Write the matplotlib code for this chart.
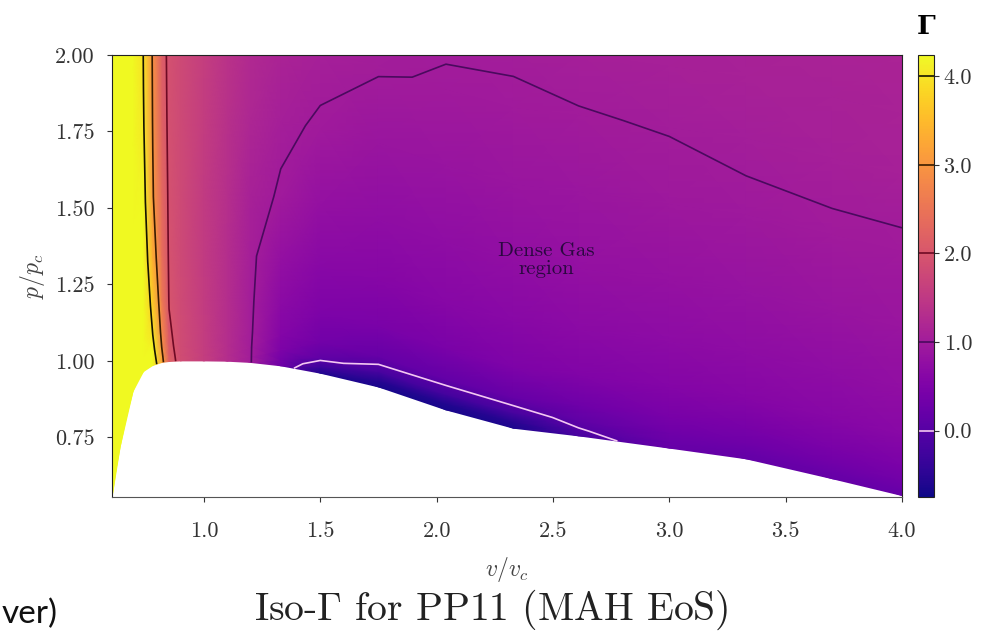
import numpy as np
import matplotlib.pyplot as plt
from matplotlib.colors import Normalize

plt.rcParams['font.family'] = 'serif'
plt.rcParams['font.serif'] = ['cmr10']
plt.rcParams['mathtext.fontset'] = 'cm'
plt.rcParams['axes.formatter.use_mathtext'] = True

# reduced volume of each grid column and the saturation pressure below it
v_red = [0.605, 0.64, 0.695, 0.74, 0.78, 0.82, 0.85, 0.9, 1.0, 1.1, 1.2,
         1.33, 1.5, 1.75, 2.04, 2.33, 2.61, 3.0, 3.33, 3.7, 4.0]
p_sat = [0.555, 0.72, 0.90, 0.965, 0.985, 0.995, 0.998, 1.0, 1.0, 0.999, 0.995,
         0.984, 0.96, 0.915, 0.84, 0.78, 0.755, 0.715, 0.68, 0.615, 0.56]

# height of each grid row above the saturation line
dp_row = [0.0, 0.02, 0.05, 0.1, 0.2, 0.35, 0.55, 0.8, 1.05, 1.25, 1.45]

# fundamental derivative Gamma on the grid (rows = dp_row, cols = v_red)
gamma = [
    [6.0, 6.0, 6.0, 5.8, 4.6, 3.2, 2.2, 1.85, 1.6, 1.3, 1.02, 0.30, -0.60, -0.66, -0.66, -0.62, -0.15, 0.20, 0.18, 0.20, 0.22],
    [6.0, 6.0, 6.0, 5.6, 4.45, 3.1, 2.15, 1.85, 1.6, 1.3, 1.02, 0.38, -0.30, -0.55, -0.58, -0.52, -0.03, 0.24, 0.22, 0.24, 0.26],
    [6.0, 6.0, 6.0, 5.4, 4.25, 2.95, 2.1, 1.84, 1.58, 1.3, 1.02, 0.48, 0.12, -0.18, -0.22, -0.18, 0.12, 0.32, 0.31, 0.33, 0.35],
    [6.0, 6.0, 6.0, 5.2, 4.0, 2.8, 2.05, 1.83, 1.57, 1.3, 1.03, 0.58, 0.35, 0.20, 0.15, 0.20, 0.30, 0.43, 0.43, 0.45, 0.47],
    [6.0, 6.0, 6.0, 4.9, 3.7, 2.6, 1.98, 1.81, 1.56, 1.3, 1.04, 0.68, 0.50, 0.45, 0.45, 0.50, 0.55, 0.58, 0.60, 0.62, 0.64],
    [6.0, 6.0, 6.0, 4.55, 3.35, 2.4, 1.95, 1.8, 1.55, 1.3, 1.05, 0.80, 0.65, 0.60, 0.62, 0.65, 0.68, 0.70, 0.72, 0.74, 0.76],
    [6.0, 6.0, 6.0, 4.25, 3.05, 2.3, 1.93, 1.8, 1.55, 1.33, 1.10, 0.97, 0.80, 0.75, 0.75, 0.77, 0.80, 0.82, 0.84, 0.86, 0.88],
    [6.0, 6.0, 6.0, 4.05, 2.97, 2.18, 1.92, 1.8, 1.57, 1.37, 1.18, 1.05, 0.97, 0.88, 0.86, 0.87, 0.90, 0.93, 0.96, 0.97, 0.97],
    [6.0, 6.0, 6.0, 3.95, 2.93, 2.12, 1.92, 1.8, 1.6, 1.4, 1.25, 1.15, 1.07, 1.02, 0.98, 0.97, 0.99, 1.01, 1.04, 1.06, 1.07],
    [6.0, 6.0, 6.0, 3.92, 2.92, 2.1, 1.91, 1.8, 1.6, 1.4, 1.26, 1.17, 1.10, 1.06, 1.03, 1.03, 1.06, 1.07, 1.09, 1.10, 1.11],
    [6.0, 6.0, 6.0, 3.9, 2.92, 2.1, 1.91, 1.8, 1.6, 1.4, 1.27, 1.18, 1.12, 1.10, 1.06, 1.07, 1.10, 1.11, 1.12, 1.13, 1.14],
]

iso_levels = [0.0, 1.0, 2.0, 3.0, 4.0]
iso_colors = ['#f4c8f2', '#4a0a5e', '#6e0a24', '#3a1c00', '#141400']
g_min, g_max = -0.75, 4.24

# grid follows the saturation dome so the two-phase area stays blank
V = np.tile(np.array(v_red), (len(dp_row), 1))
P = np.array(p_sat)[None, :] + np.array(dp_row)[:, None]
G = np.array(gamma)

fig = plt.figure(figsize=(9.89, 6.35), dpi=100)
ax = fig.add_axes([0.1133, 0.2173, 0.7987, 0.6961])
cax = fig.add_axes([0.928, 0.2173, 0.0162, 0.6961])

norm = Normalize(vmin=g_min, vmax=g_max)
mesh = ax.pcolormesh(V, P, G, cmap='plasma', norm=norm, shading='gouraud')
cs = ax.contour(V, P, G, levels=iso_levels, colors=iso_colors, linewidths=1.2)

ax.text(2.47, 1.33, 'Dense Gas\nregion', ha='center', va='center',
        fontsize=15, color='#2a0840', linespacing=1.05)

ax.set_xlim(0.605, 4.0)
ax.set_ylim(0.555, 2.0)
ax.set_xticks([1.0, 1.5, 2.0, 2.5, 3.0, 3.5, 4.0])
ax.set_yticks([0.75, 1.0, 1.25, 1.5, 1.75, 2.0])
ax.xaxis.set_major_formatter(plt.FormatStrFormatter('%.1f'))
ax.yaxis.set_major_formatter(plt.FormatStrFormatter('%.2f'))
ax.tick_params(labelsize=16, colors='#333333')
ax.tick_params(axis='x', pad=14)
ax.tick_params(axis='y', pad=9)
ax.set_xlabel(r'$v/v_c$', fontsize=17, labelpad=10, color='#444444')
ax.set_ylabel(r'$p/p_c$', fontsize=17, labelpad=6, color='#444444')
for s in ax.spines.values():
    s.set_color('#222222')
ax.spines['bottom'].set_color('#555555')

cbar = fig.colorbar(mesh, cax=cax, ticks=iso_levels)
cbar.add_lines(cs)
cbar.ax.yaxis.set_major_formatter(plt.FormatStrFormatter('%.1f'))
cbar.ax.tick_params(labelsize=16, colors='#333333')
cbar.outline.set_edgecolor('#222222')
cax.set_title('Γ', fontsize=19, pad=15, family=['DejaVu Serif'], fontweight='bold')

fig.text(0.497, 0.040, r'Iso-$\Gamma$ for PP11 (MAH EoS)', ha='center', va='center',
         fontsize=28.5, color='#222222')
fig.text(0.002, 0.018, 'ver)', ha='left', va='baseline', fontsize=24,
         family=['Lato', 'DejaVu Sans'], color='#111111')

fig.savefig('out.png', dpi=100)
